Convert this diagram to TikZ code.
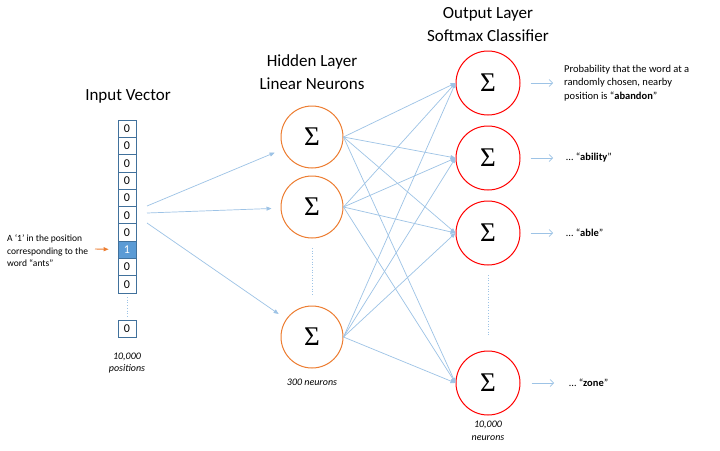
\documentclass[tikz,border=0pt]{standalone}
\usepackage{fontspec}
\setmainfont{Carlito}
\newfontfamily\sigfont{Liberation Serif}
\usetikzlibrary{arrows.meta}
\definecolor{lblue}{HTML}{9DC3E6}
\definecolor{cellblue}{HTML}{41719C}
\definecolor{cellfill}{HTML}{5B9BD5}
\definecolor{orng}{HTML}{ED7D31}
\definecolor{rd}{HTML}{FF0000}
\begin{document}
\begin{tikzpicture}[x=1pt,y=-1pt,
  cell/.style={draw=cellblue, line width=0.8pt, minimum width=18pt, minimum height=17.3pt, inner sep=0pt, font=\fontsize{12}{14}\selectfont},
  hid/.style={circle, draw=orng, line width=1pt, minimum size=62pt, inner sep=0pt, font=\sigfont\fontsize{27}{27}\selectfont},
  outn/.style={circle, draw=rd, line width=1pt, minimum size=64pt, inner sep=0pt, font=\sigfont\fontsize{27}{27}\selectfont},
  conn/.style={draw=lblue, line width=0.7pt, -{Triangle[length=5pt,width=4pt]}},
  outarr/.style={draw=lblue, line width=0.7pt, -{Straight Barb[length=3.5pt,width=7pt]}},
  dotl/.style={draw=lblue, line width=0.7pt, dotted},
  title/.style={font=\fontsize{17}{23}\selectfont, align=center},
  small/.style={font=\fontsize{10.5}{13.5}\selectfont, align=left, inner sep=0pt},
  note/.style={font=\fontsize{10}{12.5}\selectfont\itshape, align=center, inner sep=0pt}]
\useasboundingbox (0,0) rectangle (720,450);
\fill[white] (0,0) rectangle (720,450);

% titles
\node[title] (tin) at (128,96) {Input Vector};
\node[title] (thid) at (312,72) {Hidden Layer\\Linear Neurons};
\node[title] (tout) at (488,25) {Output Layer\\Softmax Classifier};

% input vector
\foreach \i in {1,...,10} {
  \node[cell] (c\i) at (127,{120+17.3*(\i-0.5)}) {0};
}
\node[cell, fill=cellfill, text=white] at (c8) {1};
\node[cell] (cL) at (127,329) {0};
\draw[dotl] (127,297) -- (127,316);
\node[note] (npos) at (127,363) {10,000\\positions};

% input annotation
\node[small, font=\fontsize{9.5}{12.5}\selectfont, anchor=west] (lab) at (7,251) {A ‘1’ in the position\\corresponding to the\\word “ants”};
\coordinate (oa) at (95,249);
\draw[draw=orng, line width=0.9pt, -{Triangle[length=5pt,width=4pt]}, shorten >=9pt] (oa) -- (c8);

% hidden layer
\node[hid] (h1) at (312,137) {Σ};
\node[hid] (h2) at (312,207) {Σ};
\node[hid] (h3) at (312,337) {Σ};
\draw[dotl] (312,248) -- (312,295);
\node[note] (n300) at (312,382) {300 neurons};

% input to hidden
\coordinate (s1) at (147,206);
\coordinate (s2) at (147,213);
\coordinate (s3) at (147,223);
\draw[conn, shorten >=9pt] (s1) -- (h1);
\draw[conn, shorten >=9pt] (s2) -- (h2);
\draw[conn, shorten >=9pt] (s3) -- (h3);

% output layer
\node[outn] (o1) at (488,83) {Σ};
\node[outn] (o2) at (488,158) {Σ};
\node[outn] (o3) at (488,233) {Σ};
\node[outn] (o4) at (488,383) {Σ};
\draw[dotl] (488,275) -- (488,337);
\node[note] (n10k) at (488,431) {10,000\\neurons};

% hidden to output
\foreach \h in {h1,h2,h3} {
  \foreach \o in {o1,o2,o3,o4} {
    \draw[conn] (\h.east) -- (\o.west);
  }
}

% output labels
\node[small, anchor=west] (p1) at (564,83) {Probability that the word at a\\randomly chosen, nearby\\position is “\textbf{abandon}”};
\node[small, anchor=west] (p2) at (566,158) {… “\textbf{ability}”};
\node[small, anchor=west] (p3) at (566,233) {… “\textbf{able}”};
\node[small, anchor=west] (p4) at (569,383) {… “\textbf{zone}”};
\draw[outarr, shorten <=10pt, shorten >=11pt] (o1) -- (p1);
\draw[outarr, shorten <=10pt, shorten >=13pt] (o2) -- (p2);
\draw[outarr, shorten <=10pt, shorten >=13pt] (o3) -- (p3);
\draw[outarr, shorten <=11pt, shorten >=15pt] (o4) -- (p4);
\end{tikzpicture}
\end{document}
